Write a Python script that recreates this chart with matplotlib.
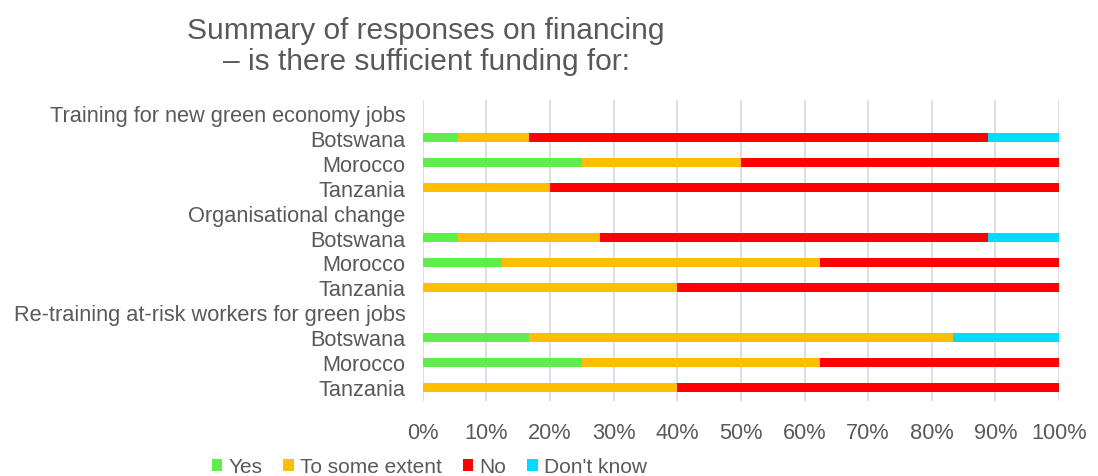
import matplotlib.pyplot as plt
from matplotlib.ticker import PercentFormatter

plt.rcParams['font.family'] = ['Liberation Sans', 'DejaVu Sans']

# row labels, top to bottom (group headers have no bars)
labels = ['Training for new green economy jobs', 'Botswana', 'Morocco', 'Tanzania',
          'Organisational change', 'Botswana', 'Morocco', 'Tanzania',
          'Re-training at-risk workers for green jobs', 'Botswana', 'Morocco', 'Tanzania']

# shares in %, one per row
yes = [0, 5.6, 25, 0, 0, 5.6, 12.5, 0, 0, 16.7, 25, 0]
some = [0, 11.1, 25, 20, 0, 22.2, 50, 40, 0, 66.6, 37.5, 40]
no = [0, 72.2, 50, 80, 0, 61.1, 37.5, 60, 0, 0, 37.5, 60]
dont_know = [0, 11.1, 0, 0, 0, 11.1, 0, 0, 0, 16.7, 0, 0]

series = [('Yes', yes, '#5fed4b'), ('To some extent', some, '#ffbf00'),
          ('No', no, '#ff0000'), ("Don't know", dont_know, '#00dcff')]

text_col = '#595959'

fig = plt.figure(figsize=(10.98, 4.77), dpi=100)
ax = fig.add_axes([0.385, 0.157, 0.5795, 0.631])

pos = list(range(len(labels)))
left = [0] * len(labels)
for name, vals, col in series:
    ax.barh(pos, vals, left=left, height=0.37, color=col, label=name, zorder=3)
    left = [a + b for a, b in zip(left, vals)]

ax.set_xlim(0, 100)
ax.set_ylim(11.55, -0.5)
ax.set_xticks(range(0, 101, 10))
ax.xaxis.set_major_formatter(PercentFormatter(decimals=0))
ax.set_yticks(pos)
ax.set_yticklabels(labels)
ax.tick_params(length=0, labelsize=15.7, colors=text_col)
ax.tick_params(axis='y', pad=12.5)
ax.tick_params(axis='x', pad=15)
ax.grid(axis='x', color='#d9d9d9', linewidth=1.2, zorder=0)
for s in ax.spines.values():
    s.set_visible(False)

fig.text(0.388, 0.903, 'Summary of responses on financing\n– is there sufficient funding for:',
         ha='center', va='center', fontsize=21.5, color=text_col, linespacing=1.15)

fig.legend(loc='center left', bbox_to_anchor=(0.176, 0.02), ncol=4, frameon=False,
           fontsize=15, labelcolor=text_col, handlelength=0.5, handleheight=0.5,
           handletextpad=0.3, columnspacing=1.0)

fig.savefig('out.png', dpi=100)
